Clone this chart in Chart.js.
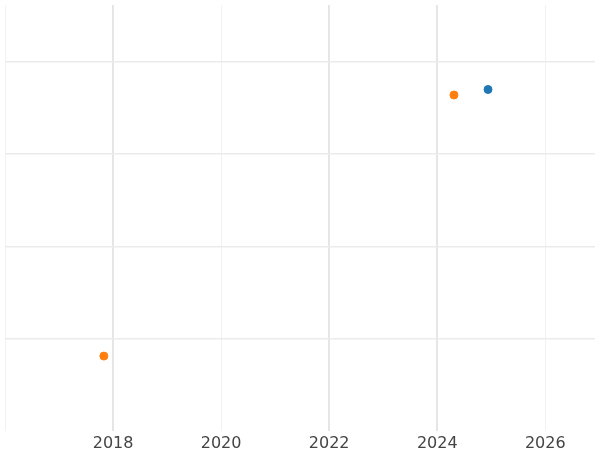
<!DOCTYPE html>
<html>
<head>
<script src="https://cdn.jsdelivr.net/npm/chart.js@4/dist/chart.umd.min.js"></script>
<style>body{margin:0;background:#fff}#wrap{width:600px;height:450px}</style>
</head>
<body>
<div id="wrap"><canvas id="c"></canvas></div>
<script>
// series data
const blueX = [2024.94];
const blueY = [3.70];
const orangeX = [2024.31, 2017.83];
const orangeY = [3.64, 0.81];
const xTicks = [2016, 2018, 2020, 2022, 2024, 2026];
const majorYears = [2018, 2022, 2024];

const pts = (xs, ys) => xs.map((x, i) => ({ x: x, y: ys[i] }));

new Chart(document.getElementById('c'), {
    type: 'scatter',
    data: {
        datasets: [
            { data: pts(blueX, blueY), backgroundColor: '#1f77b4', borderColor: '#1f77b4', pointRadius: 4 },
            { data: pts(orangeX, orangeY), backgroundColor: '#ff7f0e', borderColor: '#ff7f0e', pointRadius: 4 }
        ]
    },
    options: {
        responsive: true,
        maintainAspectRatio: false,
        animation: false,
        layout: { padding: { left: 2, right: -5, top: -5, bottom: -6 } },
        plugins: { legend: { display: false }, tooltip: { enabled: false } },
        scales: {
            x: {
                type: 'linear',
                min: 2016,
                max: 2026.92,
                afterBuildTicks: (s) => { s.ticks = xTicks.map(v => ({ value: v })); },
                border: { display: false },
                grid: {
                    color: (ctx) => majorYears.includes(ctx.tick && ctx.tick.value) ? '#e6e6e6' : '#f2f2f2',
                    lineWidth: (ctx) => majorYears.includes(ctx.tick && ctx.tick.value) ? 2 : 1,
                    drawTicks: false
                },
                ticks: {
                    color: '#444',
                    font: { family: 'DejaVu Sans', size: 16 },
                    padding: 3,
                    callback: (v) => v === 2016 ? '' : v
                }
            },
            y: {
                min: 0,
                max: 4.616,
                afterBuildTicks: (s) => { s.ticks = [1, 2, 3, 4].map(v => ({ value: v })); },
                afterFit: (s) => { s.width = 0; },
                border: { display: false },
                grid: { color: '#ebebeb', lineWidth: 1.5, drawTicks: false },
                ticks: { display: false }
            }
        }
    }
});
</script>
</body>
</html>
